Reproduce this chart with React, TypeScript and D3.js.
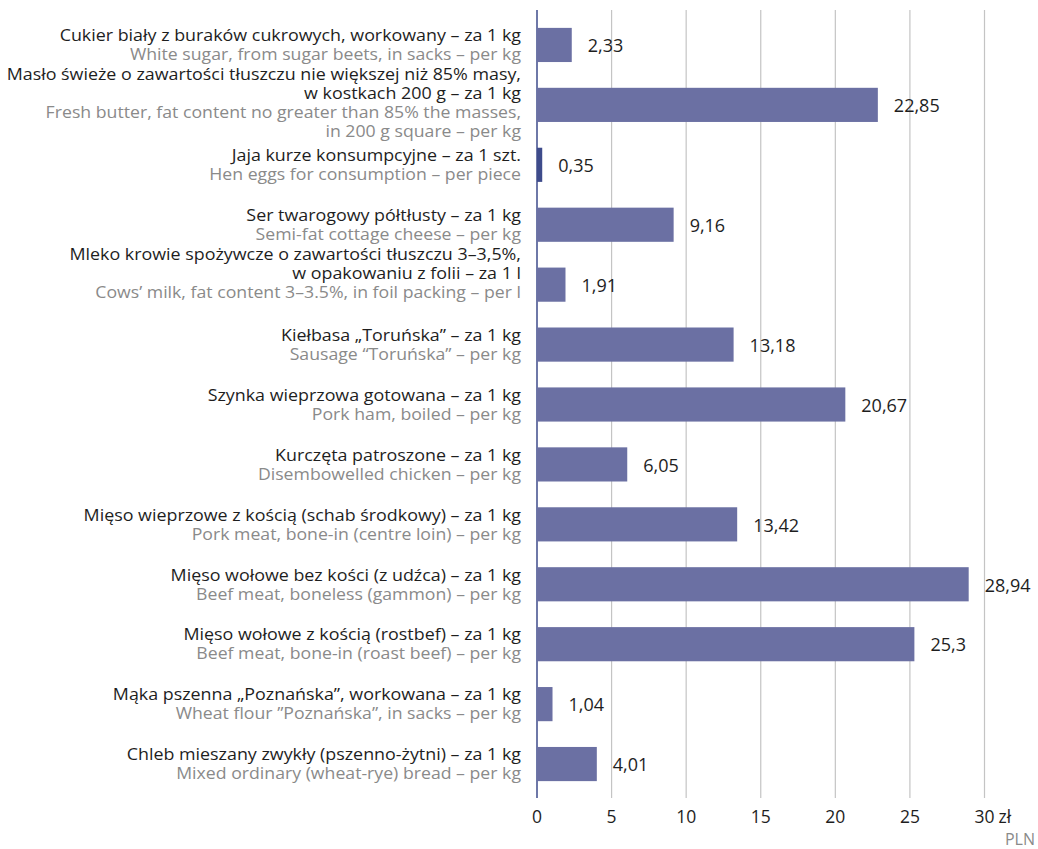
import React, { useLayoutEffect, useRef, useState } from "react";
import * as d3 from "d3";

const plLabels: string[][] = [
  ["Cukier biały z buraków cukrowych, workowany – za 1 kg"],
  ["Masło świeże o zawartości tłuszczu nie większej niż 85% masy,", "w kostkach 200 g – za 1 kg"],
  ["Jaja kurze konsumpcyjne – za 1 szt."],
  ["Ser twarogowy półtłusty – za 1 kg"],
  ["Mleko krowie spożywcze o zawartości tłuszczu 3–3,5%,", "w opakowaniu z folii – za 1 l"],
  ["Kiełbasa „Toruńska” – za 1 kg"],
  ["Szynka wieprzowa gotowana – za 1 kg"],
  ["Kurczęta patroszone – za 1 kg"],
  ["Mięso wieprzowe z kością (schab środkowy) – za 1 kg"],
  ["Mięso wołowe bez kości (z udźca) – za 1 kg"],
  ["Mięso wołowe z kością (rostbef) – za 1 kg"],
  ["Mąka pszenna „Poznańska”, workowana – za 1 kg"],
  ["Chleb mieszany zwykły (pszenno-żytni) – za 1 kg"],
];

const enLabels: string[][] = [
  ["White sugar, from sugar beets, in sacks  – per kg"],
  ["Fresh butter, fat content no greater than 85% the masses,", "in 200 g square – per kg"],
  ["Hen eggs for consumption – per piece"],
  ["Semi-fat cottage cheese – per kg"],
  ["Cows’ milk, fat content 3–3.5%, in foil packing – per l"],
  ["Sausage “Toruńska” – per kg"],
  ["Pork ham, boiled – per kg"],
  ["Disembowelled chicken – per kg"],
  ["Pork meat, bone-in (centre loin) – per kg"],
  ["Beef meat, boneless (gammon) – per kg"],
  ["Beef meat, bone-in (roast beef) – per kg"],
  ["Wheat flour ”Poznańska”, in sacks – per kg"],
  ["Mixed ordinary (wheat-rye) bread – per kg"],
];

const prices: number[] = [2.33, 22.85, 0.35, 9.16, 1.91, 13.18, 20.67, 6.05, 13.42, 28.94, 25.3, 1.04, 4.01];
const highlighted: number[] = [2];
const xTicks: number[] = [0, 5, 10, 15, 20, 25, 30];

const W = 1038;
const H = 849;
const FONT = "'Open Sans', 'Noto Sans', sans-serif";
const BAR = "#6b70a3";
const BAR_DARK = "#3e4b8b";
const DARK = "#1e1e1e";
const GRAY = "#8a8a8a";
const GRID = "#c4c4c4";

// reference widths (px) of the first label lines of rows 0 and 1, used to fit the font width
const plTargetWidth = 975;
const enTargetWidth = 866;

export default function App() {
  const labelsRef = useRef<SVGGElement>(null);
  const [stretchPl, setStretchPl] = useState(1.07);
  const [stretchEn, setStretchEn] = useState(1.07);

  const x = d3.scaleLinear().domain([0, 30]).range([537, 984.5]);
  const y = d3
    .scaleBand<number>()
    .domain(d3.range(prices.length))
    .range([15, 794])
    .paddingInner(0.43)
    .paddingOuter(0.215);
  const lineH = 19;
  const gridTop = 10;
  const gridBottom = 798;
  const labelRight = 521;
  const fmt = (v: number) => String(v).replace(".", ",");

  useLayoutEffect(() => {
    const measure = () => {
      const g = labelsRef.current;
      if (!g) return;
      const w = (sel: string) => {
        const el = g.querySelector(sel) as SVGTextElement | null;
        return el ? el.getComputedTextLength() : 0;
      };
      const pl = w('[data-id="pl-0-0"]') + w('[data-id="pl-1-0"]');
      const en = w('[data-id="en-0-0"]') + w('[data-id="en-1-0"]');
      if (pl > 0) setStretchPl(plTargetWidth / pl);
      if (en > 0) setStretchEn(enTargetWidth / en);
    };
    measure();
    const fonts = (document as any).fonts;
    if (fonts && fonts.ready) fonts.ready.then(measure);
  }, []);

  return (
    <svg
      width={W}
      height={H}
      style={{ position: "absolute", left: 0, top: 0, background: "#fff" }}
      fontFamily={FONT}
    >
      {xTicks.map((t) => (
        <line
          key={"g" + t}
          x1={x(t)}
          x2={x(t)}
          y1={gridTop}
          y2={gridBottom}
          stroke={t === 0 ? BAR_DARK : GRID}
          strokeWidth={t === 0 ? 1.5 : 1.2}
        />
      ))}
      <g ref={labelsRef}>
        {prices.map((v, i) => {
          const yc = (y(i) as number) + y.bandwidth() / 2;
          const pl = plLabels[i];
          const en = enLabels[i];
          const shift = pl.length + en.length > 2 ? -2 : 0;
          const lines = [
            ...pl.map((s, k) => ({
              id: `pl-${i}-${k}`,
              s,
              c: DARK,
              st: stretchPl,
              yy: yc - lineH / 2 - (pl.length - 1 - k) * lineH,
            })),
            ...en.map((s, k) => ({
              id: `en-${i}-${k}`,
              s,
              c: GRAY,
              st: stretchEn,
              yy: yc + lineH / 2 + k * lineH,
            })),
          ];
          return lines.map((l) => (
            <text
              key={l.id}
              data-id={l.id}
              transform={`translate(${labelRight},${l.yy + shift}) scale(${l.st},1)`}
              dy="0.35em"
              textAnchor="end"
              fontSize={16.5}
              fill={l.c}
            >
              {l.s}
            </text>
          ));
        })}
      </g>
      {prices.map((v, i) => {
        const yc = (y(i) as number) + y.bandwidth() / 2;
        return (
          <g key={"r" + i}>
            <rect
              x={x(0)}
              y={y(i)}
              width={x(v) - x(0)}
              height={y.bandwidth()}
              fill={highlighted.includes(i) ? BAR_DARK : BAR}
            />
            <text x={x(v) + 16} y={yc + 1} dy="0.35em" fontSize={18} fill={DARK}>
              {fmt(v)}
            </text>
          </g>
        );
      })}
      {xTicks.map((t) => (
        <text
          key={"t" + t}
          x={x(t)}
          y={817}
          dy="0.35em"
          textAnchor="middle"
          fontSize={17.5}
          fill={DARK}
        >
          {t}
        </text>
      ))}
      <text x={x(30) + 14} y={817} dy="0.35em" fontSize={17.5} fill={DARK}>
        zł
      </text>
      <text x={1035} y={839} dy="0.35em" textAnchor="end" fontSize={16} fill={GRAY}>
        PLN
      </text>
    </svg>
  );
}
